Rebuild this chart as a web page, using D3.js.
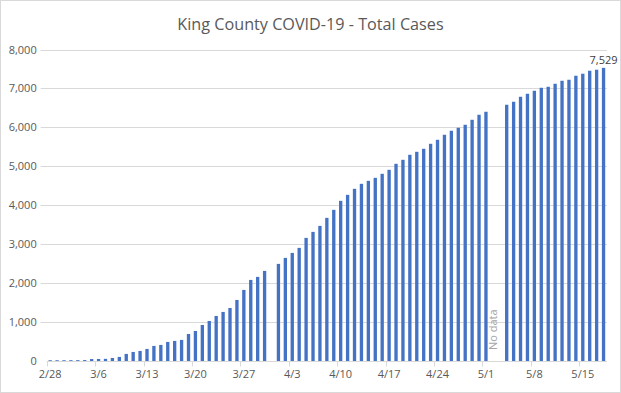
<!DOCTYPE html>
<html>
<head>
<meta charset="utf-8">
<script src="https://cdn.jsdelivr.net/npm/d3@7"></script>
<style>
  body { margin: 0; background: #fff; }
  svg { display: block; font-family: "Open Sans", sans-serif; }
</style>
</head>
<body>
<svg id="chart"></svg>
<script>
// Days on the axis, 2/28 through 5/18
var days = [
  "2/28","2/29","3/1","3/2","3/3","3/4","3/5","3/6","3/7","3/8","3/9","3/10","3/11","3/12",
  "3/13","3/14","3/15","3/16","3/17","3/18","3/19","3/20","3/21","3/22","3/23","3/24","3/25","3/26",
  "3/27","3/28","3/29","3/30","3/31","4/1","4/2","4/3","4/4","4/5","4/6","4/7","4/8","4/9",
  "4/10","4/11","4/12","4/13","4/14","4/15","4/16","4/17","4/18","4/19","4/20","4/21","4/22","4/23",
  "4/24","4/25","4/26","4/27","4/28","4/29","4/30","5/1","5/2","5/3","5/4","5/5","5/6","5/7",
  "5/8","5/9","5/10","5/11","5/12","5/13","5/14","5/15","5/16","5/17","5/18"
];

// Total cases per day (null = no bar)
var totalCases = [
  20, 20, 20, 21, 22, 24, 50, 52, 55, 78, 105, 182, 232, 258,
  310, 387, 413, 490, 516, 542, 694, 771, 925, 1028, 1157, 1260, 1362, 1568,
  1825, 2082, 2160, 2314, null, 2494, 2648, 2776, 2905, 3162, 3316, 3470, 3676, 3882,
  4113, 4267, 4422, 4550, 4627, 4704, 4807, 4910, 5064, 5167, 5296, 5373, 5450, 5578,
  5681, 5810, 5913, 5990, 6067, 6195, 6324, 6401, null, null, 6581, 6658, 6786, 6863,
  6940, 7017, 7043, 7120, 7197, 7223, 7326, 7378, 7455, 7481, 7529
];

var tickLabels = ["2/28","3/6","3/13","3/20","3/27","4/3","4/10","4/17","4/24","5/1","5/8","5/15"];
var yTicks = [0, 1000, 2000, 3000, 4000, 5000, 6000, 7000, 8000];
var noDataDay = "5/2";

var width = 621, height = 393;
var margin = {top: 49.5, right: 14, bottom: 32, left: 46.7};

var svg = d3.select('#chart')
  .attr('width', width)
  .attr('height', height);

// chart border
svg.append('rect')
  .attr('x', 0.5).attr('y', 0.5)
  .attr('width', width - 1).attr('height', height - 1)
  .attr('fill', '#fff')
  .attr('stroke', '#d9d9d9');

var x = d3.scaleBand()
  .domain(days)
  .range([margin.left, width - margin.right])
  .paddingInner(0.52)
  .paddingOuter(0.26);

// band step without padding, for tick marks at day edges
var step = (width - margin.right - margin.left) / days.length;
function dayStart(d) { return margin.left + days.indexOf(d) * step; }

var y = d3.scaleLinear()
  .domain([0, 8000])
  .range([height - margin.bottom, margin.top]);

// title
svg.append('text')
  .attr('x', 310.5)
  .attr('y', 29.5)
  .attr('text-anchor', 'middle')
  .style('font-size', '16.2px')
  .style('fill', '#595959')
  .text('King County COVID-19 - Total Cases');

// gridlines
svg.append('g')
  .selectAll('line')
  .data(yTicks.slice(1))
  .enter().append('line')
  .attr('x1', margin.left - 6)
  .attr('x2', width - margin.right)
  .attr('y1', function (d) { return Math.round(y(d)) + 0.5; })
  .attr('y2', function (d) { return Math.round(y(d)) + 0.5; })
  .attr('stroke', '#d9d9d9');

// y axis labels
var yAxis = svg.append('g')
  .attr('transform', 'translate(' + (margin.left - 4) + ',0)')
  .call(d3.axisLeft(y).tickValues(yTicks).tickFormat(d3.format(',')).tickSize(0).tickPadding(6));
yAxis.select('.domain').remove();
yAxis.selectAll('text')
  .style('font-size', '11px')
  .style('font-family', '"Open Sans", sans-serif')
  .style('fill', '#595959');

// bars
svg.append('g')
  .selectAll('rect')
  .data(days.map(function (d, i) { return {day: d, value: totalCases[i]}; })
    .filter(function (d) { return d.value !== null; }))
  .enter().append('rect')
  .attr('x', function (d) { return x(d.day); })
  .attr('width', x.bandwidth())
  .attr('y', function (d) { return y(d.value); })
  .attr('height', function (d) { return y(0) - y(d.value); })
  .attr('fill', '#4472c4');

// x axis line + tick marks at day edges
var baseY = Math.round(y(0)) + 0.5;
svg.append('line')
  .attr('x1', margin.left).attr('x2', width - margin.right)
  .attr('y1', baseY).attr('y2', baseY)
  .attr('stroke', '#d9d9d9');

svg.append('g')
  .selectAll('line')
  .data(tickLabels)
  .enter().append('line')
  .attr('x1', function (d) { return Math.round(dayStart(d)) + 0.5; })
  .attr('x2', function (d) { return Math.round(dayStart(d)) + 0.5; })
  .attr('y1', baseY).attr('y2', baseY + 5)
  .attr('stroke', '#d9d9d9');

// x labels, centred under the day
var xAxis = svg.append('g')
  .attr('transform', 'translate(0,' + baseY + ')')
  .call(d3.axisBottom(x).tickValues(tickLabels).tickSize(0).tickPadding(9));
xAxis.select('.domain').remove();
xAxis.selectAll('text')
  .style('font-size', '11px')
  .style('font-family', '"Open Sans", sans-serif')
  .style('fill', '#595959');

// last value label
var lastDay = days[days.length - 1];
var lastVal = totalCases[totalCases.length - 1];
svg.append('text')
  .attr('x', x(lastDay) + x.bandwidth() / 2)
  .attr('y', y(lastVal) - 4)
  .attr('text-anchor', 'middle')
  .style('font-size', '11px')
  .style('fill', '#404040')
  .text(d3.format(',')(lastVal));

// "No data" note in the gap
var ndx = x(noDataDay) + x.bandwidth() / 2 + 4;
svg.append('text')
  .attr('transform', 'translate(' + ndx + ',' + (y(0) - 11) + ') rotate(-90)')
  .attr('text-anchor', 'start')
  .style('font-size', '11px')
  .style('fill', '#a6a6a6')
  .text('No data');
</script>
</body>
</html>
